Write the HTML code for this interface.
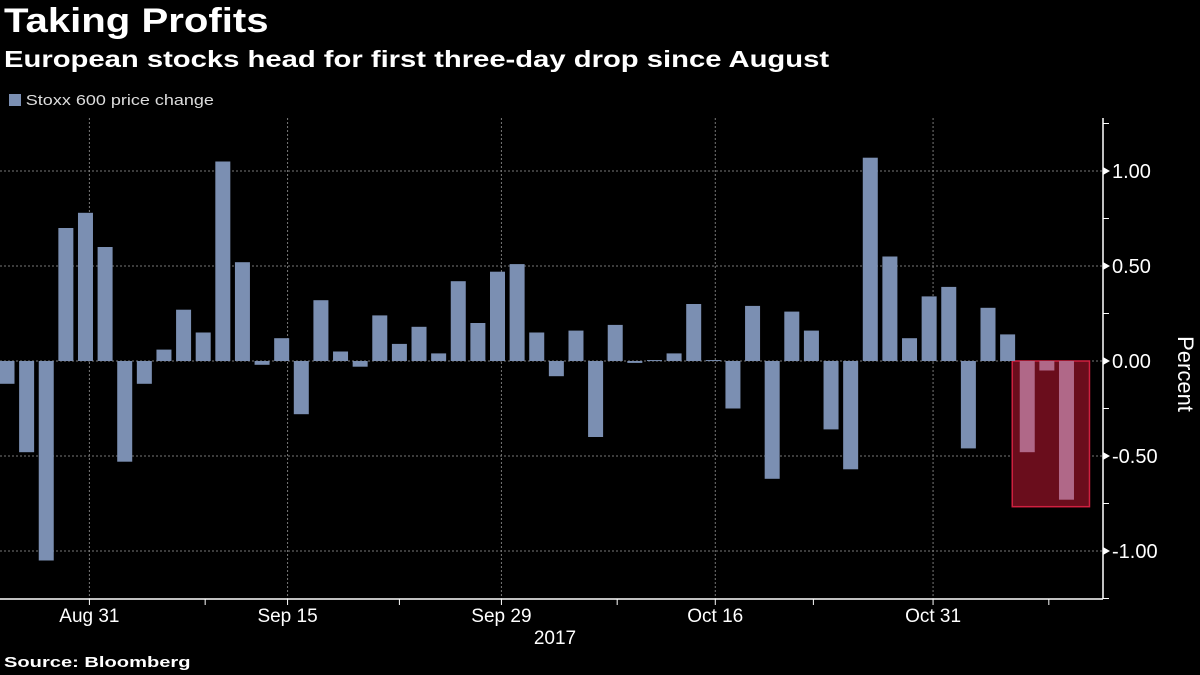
<!DOCTYPE html>
<html><head><meta charset="utf-8"><style>
body{margin:0;background:#000;width:1200px;height:675px;overflow:hidden;font-family:"Liberation Sans",sans-serif;color:#fff}
.t{position:absolute;left:4px;font-weight:bold;transform-origin:0 0;white-space:nowrap}
</style></head><body>
<div class="t" style="top:2px;font-size:34px;transform:scaleX(1.18)">Taking Profits</div>
<div class="t" style="top:46px;font-size:23px;transform:scaleX(1.27)">European stocks head for first three-day drop since August</div>
<div style="position:absolute;left:9px;top:92px;font-size:15px;color:#ddd;transform:scaleX(1.2);transform-origin:0 0;white-space:nowrap"><span style="display:inline-block;width:10px;height:12px;background:#7b8fb2;margin-right:4px;vertical-align:-1px"></span>Stoxx 600 price change</div>
<div class="t" style="top:654px;font-size:15px;transform:scaleX(1.34)">Source: Bloomberg</div>
<svg id="c" width="1200" height="675" style="position:absolute;left:0;top:0"></svg>
<script>
const values=[-0.12,-0.48,-1.05,0.70,0.78,0.60,-0.53,-0.12,0.06,0.27,0.15,1.05,0.52,-0.02,0.12,-0.28,0.32,0.05,-0.03,0.24,0.09,0.18,0.04,0.42,0.20,0.47,0.51,0.15,-0.08,0.16,-0.40,0.19,-0.01,0.005,0.04,0.30,0.005,-0.25,0.29,-0.62,0.26,0.16,-0.36,-0.57,1.07,0.55,0.12,0.34,0.39,-0.46,0.28,0.14,-0.48,-0.05,-0.73];
const yTicks=[1.0,0.5,0,-0.5,-1.0];
const yTickLabels=["1.00","0.50","0.00","-0.50","-1.00"];
const xLabels=[["Aug 31",4.2],["Sep 15",14.3],["Sep 29",25.2],["Oct 16",36.1],["Oct 31",47.2]];
const xMinor=[10.1,20.0,31.1,41.1,53.1];
const highlightStart=52;
const svg=document.getElementById('c');const NS='http://www.w3.org/2000/svg';
const X=i=>7+19.62*i, Y=v=>361-190*v;
function el(t,a){const e=document.createElementNS(NS,t);for(const k in a)e.setAttribute(k,a[k]);svg.appendChild(e);return e;}
yTicks.forEach((v,i)=>{
 let g=el('line',{x1:0,x2:1103,y1:Y(v),y2:Y(v),stroke:'#777','stroke-dasharray':'2,2','stroke-width':1});
 
 el('path',{d:`M1103 ${Y(v)-4}L1110 ${Y(v)}L1103 ${Y(v)+4}Z`,fill:'#fff'});
 let t=el('text',{x:1112,y:Y(v)+7,fill:'#fff','font-size':20,'font-family':'Liberation Sans'});t.textContent=yTickLabels[i];
 
});
[1.25,0.75,0.25,-0.25,-0.75,-1.25].forEach(v=>{if(Y(v)>118&&Y(v)<599)el('line',{x1:1103,x2:1109,y1:Y(v),y2:Y(v),stroke:'#fff'});});
xLabels.forEach(([s,p])=>{
 let g=el('line',{x1:X(p),x2:X(p),y1:118,y2:599,stroke:'#777','stroke-dasharray':'2,2'});
 
 el('line',{x1:X(p),x2:X(p),y1:599,y2:605,stroke:'#fff'});
 let t=el('text',{x:X(p),y:622,fill:'#fff','font-size':19,'text-anchor':'middle','font-family':'Liberation Sans'});t.textContent=s;
 
});
xMinor.forEach(p=>el('line',{x1:X(p),x2:X(p),y1:599,y2:605,stroke:'#fff'}));
let yr=el('text',{x:555,y:644,fill:'#fff','font-size':19,'text-anchor':'middle','font-family':'Liberation Sans'});yr.textContent='2017';

const hx=X(highlightStart)-15, hx2=X(values.length-1)+23;
let hb=el('rect',{x:hx,y:Y(0),width:hx2-hx,height:Y(Math.min(...values.slice(highlightStart)))-Y(0)+7,fill:'#6a0d1c',stroke:'#d02040','stroke-width':1.5});

values.forEach((v,i)=>{
 let b=el('rect',{x:X(i)-7.5,y:Math.min(Y(v),Y(0)),width:15,height:Math.max(Math.abs(Y(v)-Y(0)),1),fill:i>=highlightStart?'#b06888':'#7b8fb2'});
 
});
el('line',{x1:1103,x2:1103,y1:118,y2:599,stroke:'#fff','stroke-width':1.5});
el('line',{x1:0,x2:1103,y1:599,y2:599,stroke:'#fff','stroke-width':1.5});
let at=el('text',{x:0,y:0,fill:'#fff','font-size':22,'text-anchor':'middle','font-family':'Liberation Sans',transform:'translate(1178,374) rotate(90)'});at.textContent='Percent';

</script>
</body></html>
